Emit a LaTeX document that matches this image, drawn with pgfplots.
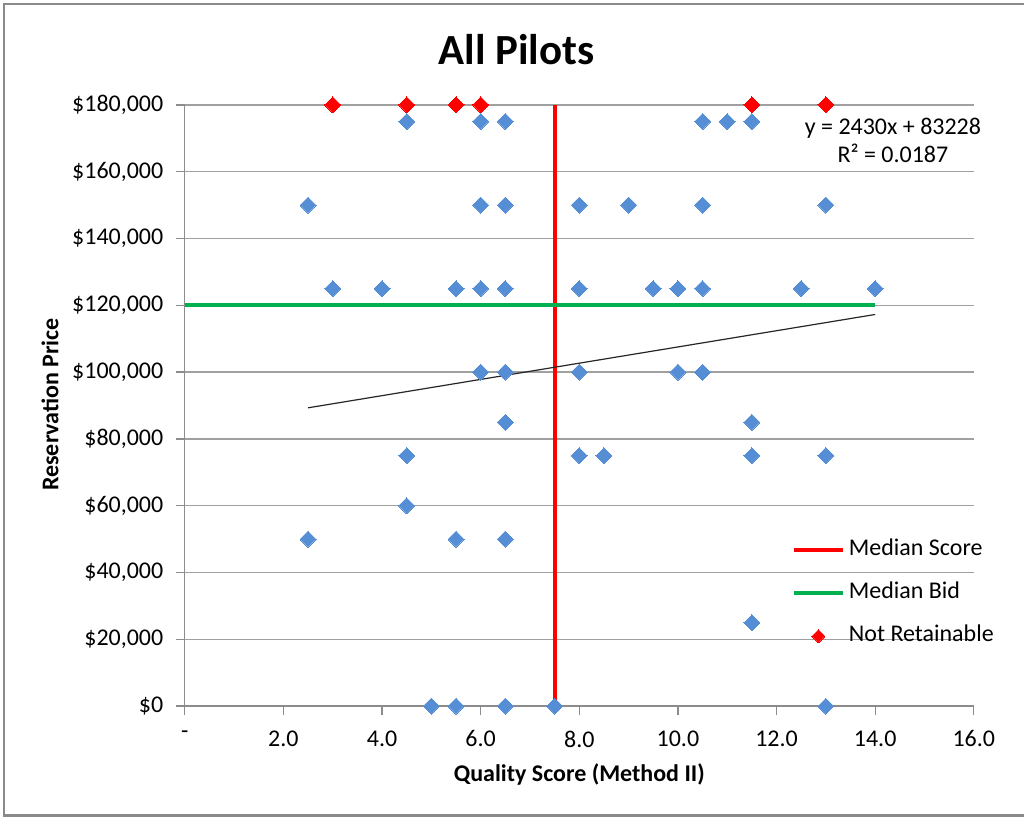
\documentclass[border=0pt]{standalone}
\usepackage{fontspec}
\setmainfont{Carlito}
\usepackage{pgfplots}
\pgfplotsset{compat=1.18}

\definecolor{ptblue}{HTML}{558ED5}
\definecolor{medred}{HTML}{FF0000}
\definecolor{medgreen}{HTML}{00B050}
\definecolor{gridgray}{HTML}{A0A0A0}
\definecolor{axisgray}{HTML}{8C8C8C}
\definecolor{framegray}{HTML}{8A8A8A}

\newcommand\fs{\fontsize{24}{28}\selectfont}
\tikzset{
  diamondmark/.style={#1, only marks, mark=square*, mark size=5.66pt,
    mark options={rotate=45, draw=#1, fill=#1, line width=0pt}},
}

\begin{document}
\begin{tikzpicture}
\begin{axis}[
  name=ax,
  scale only axis,
  width=790pt, height=602pt,
  xmin=0, xmax=16, ymin=0, ymax=180000,
  axis x line*=bottom, axis y line*=left,
  axis line style={axisgray, line width=1.3pt, -},
  xtick={0,2,...,16},
  xticklabels={-,2.0,4.0,6.0,8.0,10.0,12.0,14.0,16.0},
  ytick={0,20000,40000,60000,80000,100000,120000,140000,160000,180000},
  yticklabels={\$0,{\$20,000},{\$40,000},{\$60,000},{\$80,000},{\$100,000},{\$120,000},{\$140,000},{\$160,000},{\$180,000}},
  tick align=outside,
  major tick length=9pt,
  tick style={axisgray, line width=1.3pt},
  ymajorgrids,
  major grid style={gridgray, line width=1.3pt},
  tick label style={font=\fs, text=black},
  xticklabel style={yshift=-12pt},
  yticklabel style={xshift=-9pt},
  scaled ticks=false,
  clip=false,
  legend cell align=left,
  legend style={draw=none, fill=none, inner sep=0pt, outer sep=0pt,
    at={(0.7696,0.2766)}, anchor=north west, font=\fs, row sep=22pt,
    nodes={inner xsep=4pt, inner ysep=0pt, text height=16pt, text depth=5pt}},
]
% median lines
\addplot[medred, line width=4pt,
  legend image code/.code={\draw[medred, line width=4pt] (0pt,0pt) -- (49pt,0pt);}]
  coordinates {(7.5,0) (7.5,180000)};
\addlegendentry{Median Score}
\addplot[medgreen, line width=4pt,
  legend image code/.code={\draw[medgreen, line width=4pt] (0pt,0pt) -- (49pt,0pt);}]
  coordinates {(0,120000) (14,120000)};
\addlegendentry{Median Bid}
% linear trend: y = 2430x + 83228
\addplot[black!85, line width=1.2pt, forget plot]
  coordinates {(2.5,89303) (14,117248)};
% pilots that cannot be retained
\addplot[diamondmark=medred,
  legend image code/.code={\draw[diamondmark=medred, mark size=4.6pt] plot coordinates {(24.5pt,0pt)};}]
  coordinates {(3,180000) (4.5,180000) (5.5,180000) (6,180000) (11.5,180000) (13,180000)};
\addlegendentry{Not Retainable}
% all other pilots
\addplot[diamondmark=ptblue, forget plot]
  coordinates {
  (4.5,175000) (6,175000) (6.5,175000) (10.5,175000) (11,175000) (11.5,175000)
  (2.5,150000) (6,150000) (6.5,150000) (8,150000) (9,150000) (10.5,150000) (13,150000)
  (3,125000) (4,125000) (5.5,125000) (6,125000) (6.5,125000) (8,125000) (9.5,125000)
  (10,125000) (10.5,125000) (12.5,125000) (14,125000)
  (6,100000) (6.5,100000) (8,100000) (10,100000) (10.5,100000)
  (6.5,85000) (11.5,85000)
  (4.5,75000) (8,75000) (8.5,75000) (11.5,75000) (13,75000)
  (4.5,60000)
  (2.5,50000) (5.5,50000) (6.5,50000)
  (11.5,25000)
  (5,0) (5.5,0) (6.5,0) (7.5,0) (13,0)};
\node[font=\fs, align=center] at (axis cs:14.36,169250) {y = 2430x + 83228\\R² = 0.0187};
\end{axis}
\begin{scope}[shift={(ax.south west)}]
  \path (-185pt,-111pt) rectangle (840pt,707pt);
  \draw[framegray, line width=2.5pt] (840pt,703pt) -- (-181pt,703pt) -- (-181pt,-109.5pt) -- (840pt,-109.5pt);
  \node[font=\fontsize{43}{50}\selectfont\bfseries, anchor=base] at (332pt,642pt) {All Pilots};
  \node[font=\fs\bfseries, rotate=90] at (-135pt,302pt) {Reservation Price};
  \node[font=\fs\bfseries] at (395pt,-68pt) {Quality Score (Method II)};
\end{scope}
\end{tikzpicture}
\end{document}
